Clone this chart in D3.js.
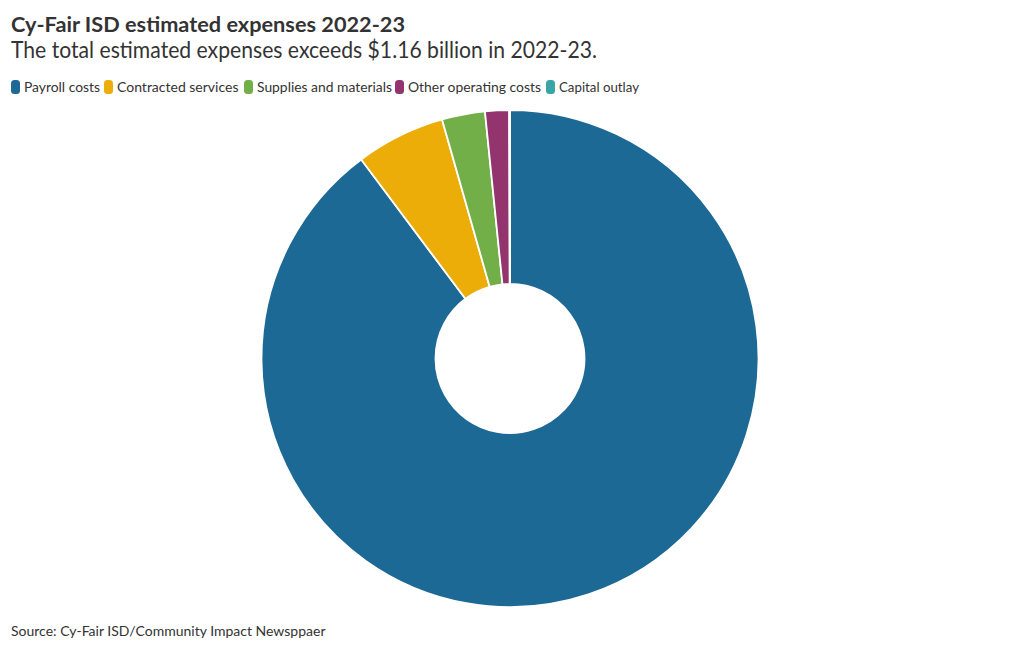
<!DOCTYPE html>
<html><head><meta charset="utf-8">
<script src="https://cdn.jsdelivr.net/npm/d3@7"></script>
<style>body{margin:0;background:#fff;}svg{display:block;font-family:Lato,"Noto Sans",sans-serif;}</style>
</head><body>
<svg id="c" width="1020" height="650"></svg>
<script>
const categories = ["Payroll costs","Contracted services","Supplies and materials","Other operating costs","Capital outlay"];
const values = [1043, 67.5, 32.5, 18.1, 0.6]; // millions of dollars (estimated)
const colors = ["#1d6996","#edad08","#73af48","#94346e","#38a6a5"];

const svg = d3.select("#c");
const title = svg.append("text").attr("x",11).attr("y",31.5).attr("font-size",21.5).attr("font-weight",700).attr("fill","#333")
  .text("Cy-Fair ISD estimated expenses 2022-23");
const sub = svg.append("text").attr("x",11).attr("y",58).attr("font-size",22.5).attr("fill","#333")
  .text("The total estimated expenses exceeds $1.16 billion in 2022-23.");
function fit(sel, w){ const n = sel.node().getComputedTextLength(); if (n > w*1.005 || n < w*0.995) sel.attr("textLength", w).attr("lengthAdjust","spacingAndGlyphs"); }
fit(title, 394); fit(sub, 586);

const color = d3.scaleOrdinal().domain(categories).range(colors);
const legendX = [11,104,244,395,546];
const legendW = [76,122,135,133,80];
const lg = svg.append("g");
categories.forEach((c,i)=>{
  lg.append("rect").attr("x",legendX[i]).attr("y",80).attr("width",9).attr("height",14).attr("rx",3.5).attr("fill",color(c));
  const t = lg.append("text").attr("x",legendX[i]+13).attr("y",92).attr("font-size",14).attr("fill","#333").text(c);
  fit(t, legendW[i]);
});

const cx = 510, cy = 358.5, R = 248.5, r0 = 74.5;
const pie = d3.pie().sort(null).value(d=>d.v);
const arc = d3.arc().innerRadius(r0).outerRadius(R);
const data = categories.map((c,i)=>({c, v: values[i]}));
svg.append("g").attr("transform",`translate(${cx},${cy})`)
  .selectAll("path").data(pie(data)).join("path")
  .attr("d",arc).attr("fill",d=>color(d.data.c))
  .attr("stroke","#fff").attr("stroke-width",1.8).attr("stroke-linejoin","round");

const src = svg.append("text").attr("x",11).attr("y",636).attr("font-size",14).attr("fill","#333")
  .text("Source: Cy-Fair ISD/Community Impact Newsppaer");
fit(src, 313);
</script>
</body></html>
